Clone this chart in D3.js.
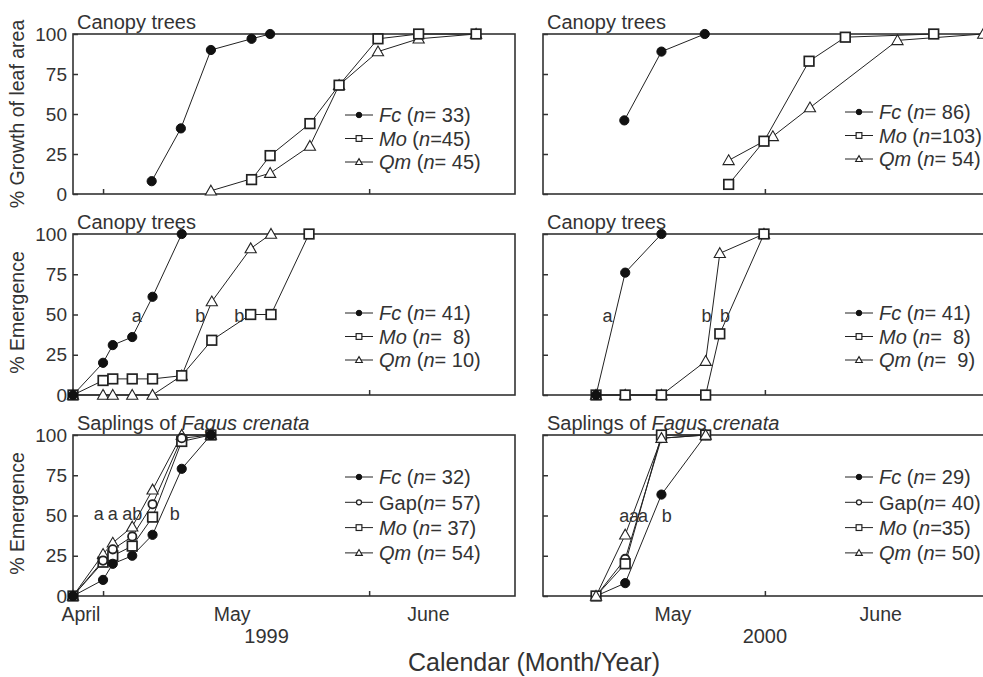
<!DOCTYPE html>
<html>
<head>
<meta charset="utf-8">
<script src="https://cdn.jsdelivr.net/npm/d3@7"></script>
<style>
  html, body { margin: 0; padding: 0; background: #fff; }
  svg { display: block; font-family: "Liberation Sans", Arial, Helvetica, sans-serif; }
</style>
</head>
<body>
<svg id="chart" width="983" height="677"></svg>
<script>
// ---------------- DATA ----------------
// x values are days from the left edge of each panel's time axis; y values are percentages
const yTicks = [0, 25, 50, 75, 100];
const xTicksLeft = [3.4, 33.5];
const xTicksRight = [25.1];
const monthNames = ["April", "May", "June"];
const monthDaysLeft = [0.9, 18.0, 40.2];
const monthNamesRight = ["May", "June"];
const monthDaysRight = [14.7, 38.2];
const yearLabels = ["1999", "2000"];
const yearDays = [21.9, 25.1];
const rowTitles = ["Canopy trees", "Canopy trees", "Saplings of "];
const yLabels = ["% Growth of leaf area", "% Emergence", "% Emergence"];

// Row 1: growth of leaf area, 1999
const leaf99FcX = [8.9, 12.2, 15.6, 20.2, 22.3];
const leaf99FcY = [8, 41, 90, 97, 100];
const leaf99MoX = [20.2, 22.3, 26.8, 30.1, 34.5, 39.1, 45.6];
const leaf99MoY = [9, 24, 44, 68, 97, 100, 100];
const leaf99QmX = [15.6, 22.3, 26.8, 30.1, 34.5, 39.1, 45.6];
const leaf99QmY = [2, 13, 30, 68, 89, 97, 100];
// Row 1: growth of leaf area, 2000
const leaf00FcX = [9.2, 13.4, 18.3];
const leaf00FcY = [46, 89, 100];
const leaf00MoX = [21.0, 25.0, 30.1, 34.2, 44.2];
const leaf00MoY = [6, 33, 83, 98, 100];
const leaf00QmX = [21.0, 26.0, 30.2, 40.1, 49.8];
const leaf00QmY = [21, 36, 54, 96, 100];

// Row 2: emergence of canopy trees, 1999
const emC99FcX = [0, 3.4, 4.5, 6.7, 9.0, 12.3];
const emC99FcY = [0, 20, 31, 36, 61, 100];
const emC99MoX = [0, 3.4, 4.5, 6.7, 9.0, 12.3, 15.7, 20.1, 22.4, 26.7];
const emC99MoY = [0, 9, 10, 10, 10, 12, 34, 50, 50, 100];
const emC99QmX = [0, 3.4, 4.5, 6.7, 9.0, 12.3, 15.7, 20.1, 22.4];
const emC99QmY = [0, 0, 0, 0, 0, 12, 58, 91, 100];
// Row 2: emergence of canopy trees, 2000
const emC00FcX = [6.0, 9.3, 13.4];
const emC00FcY = [0, 76, 100];
const emC00MoX = [6.0, 9.3, 13.4, 18.4, 20.0, 25.0];
const emC00MoY = [0, 0, 0, 0, 38, 100];
const emC00QmX = [6.0, 9.3, 13.4, 18.4, 20.0, 25.0];
const emC00QmY = [0, 0, 0, 21, 88, 100];

// Row 3: emergence of saplings of Fagus crenata, 1999
const emS99X = [0, 3.4, 4.5, 6.7, 9.0, 12.3, 15.6];
const emS99FcY = [0, 10, 20, 25, 38, 79, 100];
const emS99GapY = [0, 22, 29, 37, 57, 98, 100];
const emS99MoY = [0, 21, 25, 31, 49, 96, 100];
const emS99QmY = [0, 26, 33, 43, 66, 100, 100];
// Row 3: emergence of saplings of Fagus crenata, 2000
const emS00X = [6.0, 9.3, 13.4, 18.4];
const emS00FcY = [0, 8, 63, 100];
const emS00GapY = [0, 23, 98, 100];
const emS00MoY = [0, 20, 100, 100];
const emS00QmY = [0, 38, 98, 100];

// Legend entries: [species, text before n, text after n]
const legC99a = [["Fc", " (", "= 33)"], ["Mo", " (", "=45)"], ["Qm", " (", "= 45)"]];
const legC00a = [["Fc", " (", "= 86)"], ["Mo", " (", "=103)"], ["Qm", " (", "= 54)"]];
const legC99b = [["Fc", " (", "= 41)"], ["Mo", " (", "=  8)"], ["Qm", " (", "= 10)"]];
const legC00b = [["Fc", " (", "= 41)"], ["Mo", " (", "=  8)"], ["Qm", " (", "=  9)"]];
const legS99 = [["Fc", " (", "= 32)"], ["Gap", "(", "= 57)"], ["Mo", " (", "= 37)"], ["Qm", " (", "= 54)"]];
const legS00 = [["Fc", " (", "= 29)"], ["Gap", "(", "= 40)"], ["Mo", " (", "=35)"], ["Qm", " (", "= 50)"]];

// Significance letters: text, day, value
const letC99 = [["a", 7.2, 49], ["b", 14.4, 49], ["b", 18.8, 49]];
const letC00 = [["a", 7.3, 49], ["b", 18.5, 49], ["b", 20.6, 49]];
const letS99 = [["a", 2.9, 51], ["a", 4.5, 51], ["ab", 6.7, 51], ["b", 11.5, 51]];
const letS00 = [["a", 9.2, 50], ["a", 10.3, 50], ["a", 11.3, 50], ["b", 14.0, 50]];

// ---------------- LAYOUT ----------------
const svg = d3.select("#chart");
const ink = "#333";
const colX = [[73, 515], [543, 985]];
const rowY = [[34, 194], [234, 395], [435, 596]];
const xDomain = [0, 50];

function zipXY(xs, ys) { return xs.map((d, i) => ({x: d, y: ys[i]})); }

const panels = [
  {r: 0, c: 0, leg: legC99a, letters: [], series: [
    {k: "Qm", d: zipXY(leaf99QmX, leaf99QmY)}, {k: "Mo", d: zipXY(leaf99MoX, leaf99MoY)}, {k: "Fc", d: zipXY(leaf99FcX, leaf99FcY)}]},
  {r: 0, c: 1, leg: legC00a, letters: [], series: [
    {k: "Qm", d: zipXY(leaf00QmX, leaf00QmY)}, {k: "Mo", d: zipXY(leaf00MoX, leaf00MoY)}, {k: "Fc", d: zipXY(leaf00FcX, leaf00FcY)}]},
  {r: 1, c: 0, leg: legC99b, letters: letC99, series: [
    {k: "Qm", d: zipXY(emC99QmX, emC99QmY)}, {k: "Mo", d: zipXY(emC99MoX, emC99MoY)}, {k: "Fc", d: zipXY(emC99FcX, emC99FcY)}]},
  {r: 1, c: 1, leg: legC00b, letters: letC00, series: [
    {k: "Qm", d: zipXY(emC00QmX, emC00QmY)}, {k: "Mo", d: zipXY(emC00MoX, emC00MoY)}, {k: "Fc", d: zipXY(emC00FcX, emC00FcY)}]},
  {r: 2, c: 0, leg: legS99, letters: letS99, series: [
    {k: "Qm", d: zipXY(emS99X, emS99QmY)}, {k: "Mo", d: zipXY(emS99X, emS99MoY)}, {k: "Gap", d: zipXY(emS99X, emS99GapY)}, {k: "Fc", d: zipXY(emS99X, emS99FcY)}]},
  {r: 2, c: 1, leg: legS00, letters: letS00, series: [
    {k: "Fc", d: zipXY(emS00X, emS00FcY)}, {k: "Gap", d: zipXY(emS00X, emS00GapY)}, {k: "Mo", d: zipXY(emS00X, emS00MoY)}, {k: "Qm", d: zipXY(emS00X, emS00QmY)}]}
];

function drawMarker(g, k, x, y, s) {
  if (k === "Fc") {
    g.append("circle").attr("cx", x).attr("cy", y).attr("r", 4.6 * s).attr("fill", "#111").attr("stroke", "#111");
  } else if (k === "Gap") {
    g.append("circle").attr("cx", x).attr("cy", y).attr("r", 4.2 * s).attr("fill", "#fff").attr("stroke", "#222").attr("stroke-width", 1.8 * Math.max(s, 0.7));
  } else if (k === "Mo") {
    const h = 4.8 * s;
    g.append("rect").attr("x", x - h).attr("y", y - h).attr("width", 2 * h).attr("height", 2 * h)
      .attr("fill", "#fff").attr("stroke", "#222").attr("stroke-width", 1.7 * Math.max(s, 0.7));
  } else {
    const a = 5.6 * s;
    g.append("path").attr("d", `M${x},${y - a}L${x + a},${y + a * 0.75}L${x - a},${y + a * 0.75}Z`)
      .attr("fill", "#fff").attr("stroke", "#222").attr("stroke-width", 1.1);
  }
}

panels.forEach(p => {
  const x = d3.scaleLinear().domain(xDomain).range(colX[p.c]);
  const y = d3.scaleLinear().domain([0, 100]).range([rowY[p.r][1], rowY[p.r][0]]);
  const g = svg.append("g");
  const x0 = colX[p.c][0], x1 = colX[p.c][1], y0 = rowY[p.r][0], y1 = rowY[p.r][1];

  g.append("rect").attr("x", x0).attr("y", y0).attr("width", x1 - x0).attr("height", y1 - y0)
    .attr("fill", "none").attr("stroke", ink).attr("stroke-width", 1.6);

  const ya = g.append("g").attr("transform", `translate(${x0},0)`)
    .call(d3.axisLeft(y).tickValues(yTicks).tickSize(-5).tickPadding(6)
      .tickFormat(p.c === 0 ? d3.format("d") : () => ""));
  ya.select(".domain").remove();
  ya.selectAll("line").attr("stroke", ink).attr("stroke-width", 1.5);
  ya.selectAll("text").attr("font-size", 19).attr("fill", ink).attr("font-family", null);

  const xa = g.append("g").attr("transform", `translate(0,${y1})`)
    .call(d3.axisBottom(x).tickValues(p.c === 0 ? xTicksLeft : xTicksRight).tickSize(-5).tickFormat(""));
  xa.select(".domain").remove();
  xa.selectAll("line").attr("stroke", ink).attr("stroke-width", 1.5);

  const t = g.append("text").attr("x", x0 + 4).attr("y", y0 - 5).attr("font-size", 20).attr("fill", ink)
    .text(rowTitles[p.r]);
  if (p.r === 2) t.append("tspan").attr("font-style", "italic").text("Fagus crenata");

  if (p.c === 0) {
    const cy = (y0 + y1) / 2 + (p.r === 0 ? 0 : -2);
    g.append("text").attr("transform", `translate(24,${cy}) rotate(-90)`).attr("text-anchor", "middle")
      .attr("font-size", 19.5).attr("fill", ink).text(yLabels[p.r]);
  }

  const line = d3.line().x(d => x(d.x)).y(d => y(d.y));
  p.series.forEach(s => {
    g.append("path").attr("d", line(s.d)).attr("fill", "none").attr("stroke", "#222").attr("stroke-width", 1);
  });
  const mg = g.append("g");
  p.series.forEach(s => s.d.forEach(d => drawMarker(mg, s.k, x(d.x), y(d.y), 1)));

  p.letters.forEach(l => {
    g.append("text").attr("x", x(l[1])).attr("y", y(l[2])).attr("dy", "0.35em").attr("text-anchor", "middle")
      .attr("font-size", 18).attr("fill", ink).text(l[0]);
  });

  const n = p.leg.length;
  const legTop = p.r === 0 ? (p.c === 0 ? 115 : 112) : (p.r === 1 ? 313 : 477);
  const step = n === 4 ? 25.3 : 23.5;
  const lx = p.c === 0 ? 345 : 845;
  p.leg.forEach((e, i) => {
    const ly = legTop + i * step;
    g.append("line").attr("x1", lx).attr("x2", lx + 28).attr("y1", ly).attr("y2", ly).attr("stroke", "#222").attr("stroke-width", 1);
    drawMarker(g, e[0], lx + 14, ly, 0.6);
    const tx = g.append("text").attr("x", lx + 34).attr("y", ly).attr("dy", "0.36em").attr("font-size", 20).attr("fill", ink);
    if (e[0] === "Gap") tx.append("tspan").text("Gap");
    else tx.append("tspan").attr("font-style", "italic").text(e[0]);
    tx.append("tspan").text(e[1]);
    tx.append("tspan").attr("font-style", "italic").text("n");
    tx.append("tspan").style("white-space", "pre").text(e[2]);
  });

  if (p.r === 2) {
    const names = p.c === 0 ? monthNames : monthNamesRight;
    const days = p.c === 0 ? monthDaysLeft : monthDaysRight;
    names.forEach((m, i) => {
      g.append("text").attr("x", x(days[i])).attr("y", 621).attr("text-anchor", "middle")
        .attr("font-size", 19.5).attr("fill", ink).text(m);
    });
    g.append("text").attr("x", x(yearDays[p.c])).attr("y", 643).attr("text-anchor", "middle")
      .attr("font-size", 20).attr("fill", ink).text(yearLabels[p.c]);
  }
});

svg.append("text").attr("x", 534).attr("y", 671).attr("text-anchor", "middle")
  .attr("font-size", 25).attr("fill", ink).text("Calendar (Month/Year)");
</script>
</body>
</html>
